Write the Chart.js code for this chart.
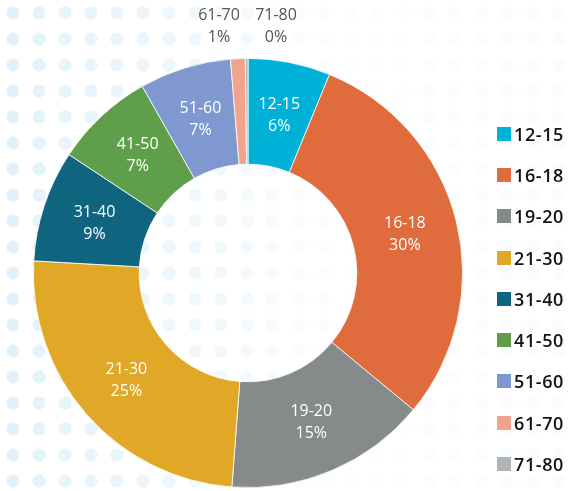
<!DOCTYPE html>
<html>
<head>
<meta charset="utf-8">
<script src="https://cdn.jsdelivr.net/npm/chart.js@4"></script>
<style>
  html, body { margin: 0; padding: 0; background: #fff; }
  #wrap { position: relative; width: 575px; height: 491px; overflow: hidden; }
  #dots {
    position: absolute; left: 0; top: 0; width: 575px; height: 491px;
    background-image: radial-gradient(circle, #e2f2fa 0 6px, transparent 7px);
    background-size: 26px 26px;
    -webkit-mask-image: linear-gradient(to right, rgba(0,0,0,1) 0%, rgba(0,0,0,0.7) 25%, rgba(0,0,0,0.1) 60%, rgba(0,0,0,0.25) 100%);
    mask-image: linear-gradient(to right, rgba(0,0,0,1) 0%, rgba(0,0,0,0.7) 25%, rgba(0,0,0,0.1) 60%, rgba(0,0,0,0.25) 100%);
  }
  #chart { position: absolute; left: 0; top: 0; }
  #legend { position: absolute; left: 497px; top: 113px; font-family: "Open Sans", sans-serif; }
  .item { height: 41.3px; display: flex; align-items: center; font-size: 18px; font-weight: 600; color: #141414; letter-spacing: 0.6px; }
  .box { width: 14px; height: 14px; margin-right: 3px; }
</style>
</head>
<body>
<div id="wrap">
  <div id="dots"></div>
  <canvas id="chart" width="575" height="491"></canvas>
  <div id="legend"></div>
</div>
<script>
// age groups
var labels = ['12-15', '16-18', '19-20', '21-30', '31-40', '41-50', '51-60', '61-70', '71-80'];
// slice sizes (share of total)
var values = [6.2, 29.8, 15.2, 24.7, 8.4, 7.5, 6.9, 1.1, 0.2];
// percentage text printed on each slice
var pctLabels = ['6%', '30%', '15%', '25%', '9%', '7%', '7%', '1%', '0%'];
var colors = ['#00b1d7', '#e06b3c', '#878a8a', '#e0a826', '#0f6580', '#5f9e4b', '#7f99d0', '#f2a38b', '#b2b5b7'];

// small slices get their label above the ring instead of inside
var outsideOffsets = { 7: -29, 8: 28 };

var sliceLabels = {
    id: 'sliceLabels',
    afterDatasetsDraw: function (chart) {
        var ctx = chart.ctx;
        var meta = chart.getDatasetMeta(0);
        ctx.save();
        ctx.font = '500 16px "Open Sans", sans-serif';
        ctx.textAlign = 'center';
        ctx.textBaseline = 'middle';
        meta.data.forEach(function (arc, i) {
            var mid = (arc.startAngle + arc.endAngle) / 2;
            var x, y;
            if (outsideOffsets[i] !== undefined) {
                x = arc.x + outsideOffsets[i];
                y = arc.y - arc.outerRadius - 43;
                ctx.fillStyle = '#565656';
            } else {
                var r = (arc.innerRadius + arc.outerRadius) / 2;
                x = arc.x + Math.cos(mid) * r;
                y = arc.y + Math.sin(mid) * r - 10;
                ctx.fillStyle = '#ffffff';
            }
            ctx.fillText(labels[i], x, y);
            ctx.fillText(pctLabels[i], x, y + 22);
        });
        ctx.restore();
    }
};

var ctx = document.getElementById('chart').getContext('2d');
var ageChart = new Chart(ctx, {
    type: 'doughnut',
    data: {
        labels: labels,
        datasets: [{
            data: values,
            backgroundColor: colors,
            borderColor: '#ffffff',
            borderWidth: 0.8
        }]
    },
    options: {
        responsive: false,
        animation: false,
        cutout: '50.7%',
        layout: {
            padding: { left: 33, top: 58, right: 112, bottom: 3 }
        },
        plugins: {
            legend: { display: false },
            tooltip: { enabled: false }
        }
    },
    plugins: [sliceLabels]
});

// legend on the right
var legend = document.getElementById('legend');
labels.forEach(function (name, i) {
    var row = document.createElement('div');
    row.className = 'item';
    var box = document.createElement('span');
    box.className = 'box';
    box.style.background = colors[i];
    row.appendChild(box);
    row.appendChild(document.createTextNode(name));
    legend.appendChild(row);
});
</script>
</body>
</html>
